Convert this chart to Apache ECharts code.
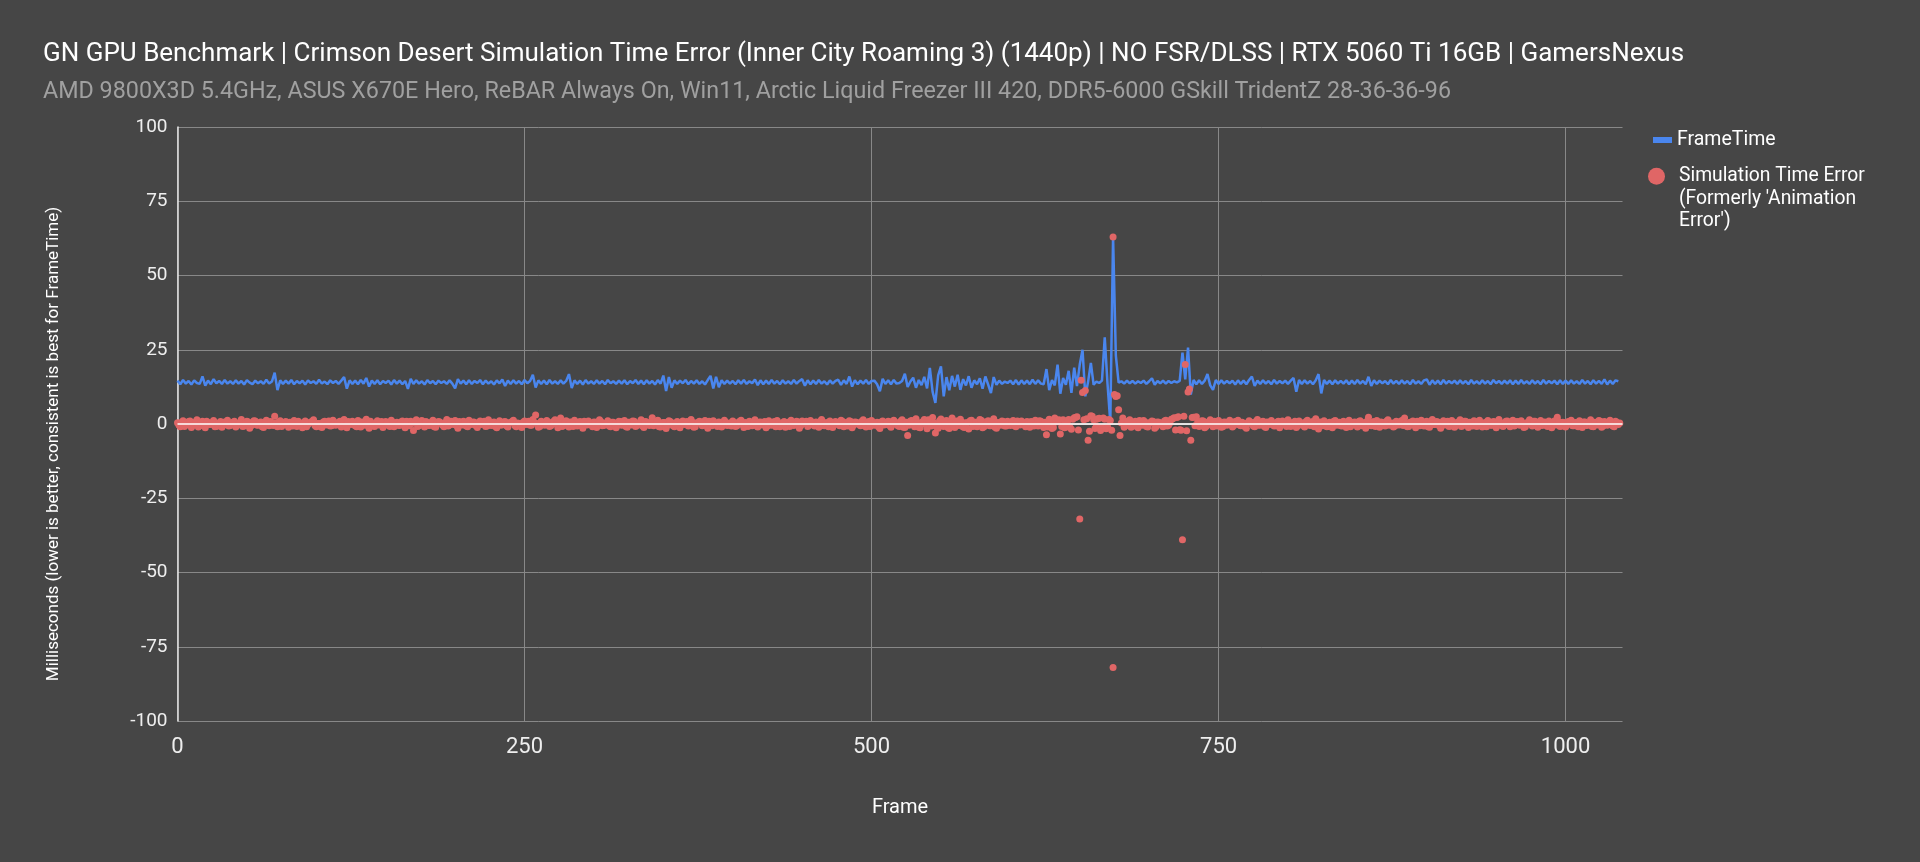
<!DOCTYPE html>
<html>
<head>
<meta charset="utf-8">
<script src="https://cdn.jsdelivr.net/npm/echarts@6/dist/echarts.min.js"></script>
<style>
html,body{margin:0;padding:0;background:#464646;}
#chart{width:1920px;height:862px;}
</style>
</head>
<body>
<div id="chart"></div>
<script>
// Values. Even frames (0,2,4,...) and odd frames (1,3,5,...).
const frameStep = 2;
const frameMax = 1041;
const yTicks = [-100, -75, -50, -25, 0, 25, 50, 75, 100];
const xTicks = [0, 250, 500, 750, 1000];

// FrameTime at even frames
const frameTime = [
14.6,13.4,14.8,13.6,14.5,13.3,14.7,13.8,13.5,16.0,12.9,14.6,13.4,15.1,13.7,14.5,13.5,14.8,13.6,14.4,
13.5,14.7,13.6,14.5,13.3,14.8,13.9,13.4,14.6,13.7,14.4,13.5,14.9,13.6,14.3,17.3,11.4,14.7,13.5,14.6,
13.6,14.8,13.4,14.5,13.7,14.6,13.3,14.7,13.8,14.4,13.5,14.9,13.6,14.3,13.4,14.7,13.8,14.5,13.5,14.6,
15.8,11.9,14.7,13.5,14.6,13.4,14.8,13.6,15.5,12.6,14.6,13.5,14.7,13.4,14.5,13.8,14.6,13.3,14.8,13.6,
14.6,13.4,14.5,11.8,15.2,13.5,14.7,13.6,14.4,13.3,14.8,13.7,14.5,13.4,14.6,13.8,14.4,13.5,14.7,13.6,
12.0,15.1,13.6,14.6,13.4,14.7,13.5,14.5,13.8,14.8,13.4,14.6,13.6,14.4,13.3,14.7,13.7,15.0,12.8,14.6,
13.5,14.7,13.6,14.5,13.4,14.8,13.7,14.5,16.6,12.3,14.7,13.5,14.6,13.4,14.8,13.6,14.4,13.5,14.7,13.6,
14.5,16.8,12.1,14.7,13.5,14.6,13.3,14.8,13.6,14.4,13.5,14.7,13.6,14.5,13.4,14.8,13.7,14.4,13.5,14.6,
13.6,14.7,13.4,14.5,13.7,14.8,13.5,14.6,13.4,14.7,13.6,14.5,13.3,14.8,13.6,16.3,11.1,15.8,12.2,14.7,
13.5,14.6,13.7,14.8,13.4,14.5,13.6,14.7,13.5,14.4,13.3,14.8,16.2,12.0,15.9,12.4,14.7,13.5,14.6,13.6,
14.5,13.4,14.7,13.6,14.8,13.5,14.4,13.7,15.0,13.1,14.7,13.4,14.6,13.5,14.8,13.6,14.5,13.4,14.7,13.6,
14.4,13.5,14.8,13.6,14.5,15.1,12.9,14.7,13.4,14.6,13.5,14.8,13.6,14.4,13.3,14.7,13.6,14.5,14.9,13.2,
14.7,13.5,16.0,12.6,14.7,13.4,14.6,13.6,14.8,13.5,14.5,14.6,13.4,11.0,15.2,13.5,14.7,13.4,14.8,13.6,
13.8,14.5,16.9,12.5,14.3,15.6,12.2,14.8,13.1,15.9,12.0,18.9,10.8,7.1,16.4,19.4,9.3,15.8,11.4,16.2,
12.6,16.6,11.5,15.1,13.0,16.1,12.2,14.7,13.4,15.4,11.9,16.0,13.3,10.4,15.8,13.2,14.6,13.5,14.3,13.8,
14.6,13.4,14.8,13.3,14.7,13.5,14.6,13.4,14.9,13.5,14.7,13.6,13.4,18.5,11.4,14.8,13.0,20.0,10.2,15.5,
13.2,17.9,10.5,19.0,12.8,20.0,25.0,9.3,14.2,20.6,13.2,14.3,13.8,14.6,29.2,13.5,0.5,63.0,23.0,13.9,
14.4,13.6,14.6,13.7,14.5,13.6,14.4,13.8,14.6,13.5,14.4,15.4,13.2,14.5,13.7,14.6,13.6,14.5,13.8,14.4,
14.0,14.5,24.0,15.0,25.7,9.9,14.8,13.4,14.7,13.5,14.6,16.8,13.0,11.5,14.8,13.5,14.7,13.6,14.5,13.7,
14.6,13.3,14.7,13.5,14.6,13.4,14.8,16.0,12.8,14.6,13.5,14.7,13.6,14.5,13.4,14.8,13.6,14.5,13.7,14.6,
13.5,14.6,15.5,10.9,14.8,13.5,14.7,13.6,14.5,13.4,14.7,16.8,10.3,14.8,13.5,14.6,13.4,14.7,13.6,14.5,
13.6,14.7,13.4,14.6,13.5,14.8,13.6,14.5,13.4,15.9,12.8,14.7,13.5,14.6,13.7,14.5,13.4,14.8,13.6,14.5,
13.5,14.7,13.6,14.5,13.4,14.8,13.6,14.4,13.5,14.7,15.0,13.2,14.7,13.5,14.6,13.4,14.8,13.6,14.5,13.7,
14.6,13.5,14.7,13.6,14.5,13.4,14.8,13.6,14.4,13.5,14.7,13.6,14.5,13.4,14.8,13.7,14.5,13.5,14.6,13.6,
14.7,13.4,14.6,13.5,14.8,13.6,14.4,13.5,14.7,13.6,14.5,13.4,14.8,13.6,14.5,13.7,14.6,13.4,14.7,13.5,
14.6,13.5,14.7,13.6,14.4,13.5,14.8,13.6,14.5,13.4,14.7,13.6,14.5,13.5,15.0,13.3,14.6,13.5,14.7,14.4
];

// Simulation Time Error at even frames
const simErrorEven = [
0.4,-0.9,1.1,-0.3,0.8,-1.2,0.2,1.4,-0.6,0.9,-1.3,0.5,-0.2,1.2,-0.8,0.3,-1.1,0.7,1.3,-0.5,
0.6,-1.0,0.2,1.5,-0.7,0.9,-1.4,0.1,1.0,-0.4,0.7,-1.2,1.3,-0.6,0.4,2.6,-0.9,1.1,-0.3,0.8,
-1.1,0.5,1.2,-0.8,0.3,-1.3,1.0,-0.2,0.7,1.4,-0.9,0.2,-1.2,0.9,0.4,-0.7,1.3,-0.4,0.6,-1.0,
1.5,-1.3,0.3,0.9,-0.6,1.2,-1.0,0.5,1.6,-1.4,0.2,-0.8,1.1,0.4,-1.2,0.8,-0.3,1.3,-0.9,0.6,
-0.5,1.0,-1.3,0.7,0.9,-2.2,1.4,-0.6,1.2,-1.0,0.5,-0.4,1.3,-1.1,0.8,0.2,-0.9,1.5,-0.3,0.6,
1.2,-1.4,0.4,0.9,-0.7,1.3,-0.2,0.6,-1.2,1.0,0.3,-0.8,1.4,-0.5,0.7,-1.3,1.1,-0.1,0.8,-1.0,
0.5,1.3,-0.9,0.2,-1.2,1.0,0.6,-0.4,1.5,3.0,-1.1,0.9,-0.3,1.2,-0.8,0.4,1.4,-1.3,2.0,-0.6,
1.1,-1.0,0.3,1.3,-0.7,0.8,-1.4,0.5,1.0,-0.3,0.7,-1.2,1.4,-0.6,0.2,1.1,-0.9,0.6,-1.3,0.9,
-0.4,1.2,-1.1,0.6,1.0,-0.8,0.3,1.4,-1.2,0.7,-0.5,2.1,-0.2,1.3,-1.0,0.5,-1.5,1.1,0.4,-0.9,
0.8,-1.3,1.0,0.2,-0.7,1.5,-1.1,0.4,0.9,-0.6,1.2,-1.4,0.6,1.1,-0.3,0.7,-1.0,1.3,-0.5,0.3,
1.0,-0.8,0.5,1.3,-1.2,0.2,0.9,-0.6,1.4,-1.0,0.7,0.3,-1.3,1.1,-0.4,0.8,1.2,-0.9,0.4,-1.1,
0.6,1.3,-0.5,0.9,-1.4,1.0,0.2,-0.8,1.2,-0.3,0.7,-1.1,1.5,-0.6,0.4,1.0,-1.2,0.8,-0.2,1.3,
-0.9,0.5,1.1,-1.3,0.7,0.3,-0.6,1.4,-1.0,0.8,1.2,-0.4,0.6,-1.5,1.0,-0.2,0.9,-1.1,1.3,0.4,
-0.8,1.4,-1.2,-3.9,1.0,0.6,1.8,-1.1,0.5,1.5,-1.6,0.9,2.2,-3.0,-1.4,1.7,-0.8,1.2,-1.5,2.0,
-1.2,0.8,1.6,-1.0,0.4,-1.7,1.3,0.2,-0.9,1.5,-1.3,0.7,1.1,-0.6,1.8,-1.4,0.3,1.0,-0.7,0.9,
-0.5,1.2,-0.9,0.6,1.0,-0.3,0.8,-1.1,0.4,1.3,-0.7,0.9,-1.2,-3.6,1.6,-1.5,2.0,0.8,-3.4,1.4,
-1.0,1.5,-1.8,2.1,2.4,-32.0,10.6,11.3,-5.5,2.8,1.4,-0.6,1.9,-1.2,1.6,-0.9,1.2,63.0,9.3,4.8,
0.3,-1.1,0.8,1.4,-0.5,0.9,-1.3,0.6,1.2,-0.8,0.4,1.0,-1.4,0.7,0.2,-0.9,1.3,-0.4,1.6,2.1,
2.2,-1.9,-39.0,20.0,10.8,-5.5,2.3,2.4,-0.8,1.1,-1.3,0.6,1.4,-0.9,0.5,1.2,-1.1,0.7,-0.4,1.3,
-1.0,0.8,1.3,-0.6,0.2,-1.4,1.1,0.5,-0.9,1.5,-0.3,0.9,-1.2,0.4,1.2,-0.7,0.6,-1.3,1.0,0.1,
1.4,-0.8,0.5,-1.2,1.0,0.3,-1.0,1.3,-0.5,0.8,1.8,-1.7,0.4,1.1,-0.9,0.6,-1.3,1.2,0.2,-0.6,
0.9,-1.2,1.3,-0.4,0.7,-1.0,1.1,0.3,-1.4,2.3,-0.6,0.8,1.2,-1.1,0.5,-0.7,1.4,0.0,-1.0,0.9,
-0.3,1.2,2.0,-0.9,0.6,1.0,-1.3,0.4,1.3,-0.7,0.9,-1.1,1.5,-0.2,0.7,-1.4,1.1,0.3,-0.8,1.2,
-1.1,0.6,1.4,-0.5,0.9,-1.2,0.3,1.1,-0.8,1.3,-1.0,0.5,1.2,-0.4,0.8,-1.3,1.5,-0.6,0.2,1.0,
-0.9,1.3,-0.3,0.7,1.1,-1.2,0.4,1.4,-0.7,0.9,-1.1,1.2,0.2,-0.5,1.0,-1.3,1.0,2.3,-0.8,0.6,
-1.0,0.8,1.3,-0.6,0.4,1.1,-1.2,0.7,-0.3,1.4,-0.9,0.5,1.2,-1.1,0.8,-0.4,1.3,-0.7,0.9,-0.2
];

// Simulation Time Error at odd frames
const simErrorOdd = [
-0.3,0.6,-0.8,0.2,1.0,-0.5,0.7,-1.0,0.3,-0.6,0.9,-0.2,0.5,-0.9,0.1,0.8,-0.4,0.6,-0.7,0.3,
0.9,-0.4,0.5,-0.8,0.2,0.7,-0.6,1.1,-0.3,0.4,-0.9,0.6,-0.1,0.8,-0.5,0.3,0.7,-0.8,0.5,-0.2,
0.6,-0.7,0.1,0.9,-0.4,0.5,-0.9,0.3,0.8,-0.5,0.2,-0.8,0.7,-0.3,1.0,-0.6,0.4,-0.1,0.9,-0.5,
-0.6,0.8,-0.2,0.5,-0.9,0.3,0.7,-0.4,0.1,0.9,-0.7,0.4,-0.3,0.8,-0.5,0.2,-0.8,0.6,0.1,-0.4,
0.7,-0.3,0.9,-0.6,0.2,0.5,-0.8,0.4,-0.1,0.8,-0.5,0.6,-0.9,0.3,0.7,-0.4,0.5,-0.7,0.9,-0.2,
-0.5,0.8,-0.3,0.6,-0.9,0.2,0.7,-0.6,0.4,-0.2,0.9,-0.7,0.3,0.5,-0.8,0.1,-0.4,0.7,-0.6,0.4,
0.8,-0.5,0.3,-0.7,0.6,-0.2,0.9,-0.4,0.5,0.2,-0.8,0.6,-0.3,0.7,-0.6,0.9,-0.1,0.4,-0.8,0.5,
-0.4,0.7,-0.8,0.2,0.5,-0.6,0.9,-0.3,0.4,-0.9,0.6,-0.1,0.8,-0.5,0.3,-0.7,0.6,0.1,-0.4,0.8,
0.5,-0.8,0.6,-0.3,0.9,-0.5,0.2,-0.7,0.8,-0.2,0.4,-0.6,0.7,-0.9,0.3,0.5,-0.4,0.8,-0.6,0.2,
-0.7,0.4,-0.2,0.8,-0.5,0.6,-0.9,0.3,0.7,-0.4,0.1,0.9,-0.6,0.4,-0.8,0.5,-0.3,0.6,0.2,-0.7,
0.4,-0.6,0.9,-0.2,0.5,-0.8,0.3,0.7,-0.5,0.6,-0.3,0.8,-0.7,0.2,0.5,-0.9,0.4,-0.1,0.8,-0.5,
-0.8,0.5,-0.2,0.7,-0.6,0.3,0.9,-0.4,0.6,-0.7,0.1,0.8,-0.5,0.4,-0.9,0.6,-0.2,0.5,-0.6,0.9,
0.3,-0.7,0.8,-0.4,0.6,-0.2,0.9,-0.6,0.4,-0.8,0.5,0.2,-0.9,0.7,-0.3,0.6,-0.5,0.8,-0.1,-0.6,
0.9,-1.1,0.6,-0.4,1.2,-0.9,0.5,-1.3,0.8,-0.2,1.4,-0.7,0.3,-1.0,1.1,-0.6,0.9,-1.2,0.4,-0.8,
1.0,-0.5,0.7,-1.2,0.4,1.1,-0.8,0.6,-0.3,1.3,-0.9,0.2,-0.6,1.0,-1.1,0.5,-0.4,0.8,-0.7,0.3,
0.7,-0.6,1.0,-0.3,0.5,-0.9,0.4,0.8,-0.7,0.2,1.1,-0.5,0.6,-1.0,0.9,-1.2,0.7,1.4,-0.8,-1.3,
0.7,-1.2,1.6,2.2,-2.0,14.7,1.4,1.8,-2.4,2.6,-1.5,1.8,-2.2,2.0,-1.6,1.5,-2.1,9.9,9.5,-3.9,
2.0,-0.6,0.9,-1.1,0.5,-0.8,1.2,-0.4,0.7,-1.0,0.3,0.8,-0.9,0.6,-0.3,1.0,-0.7,0.4,1.8,-2.0,
2.4,-2.1,2.6,-2.3,11.8,2.2,-0.6,0.8,-0.4,1.0,-0.8,0.5,-0.3,0.9,-0.7,0.4,-0.9,0.6,-0.2,0.7,
-0.5,0.8,-0.3,0.6,-0.9,0.4,0.2,-0.7,0.9,-0.4,0.5,-0.8,0.7,-0.2,0.3,-0.6,0.9,-0.5,0.4,-0.8,
0.6,-0.3,0.9,-0.7,0.4,-0.5,0.8,-0.2,0.6,-0.9,0.3,0.7,-0.6,0.5,-0.8,0.2,0.9,-0.4,0.6,-0.7,
-0.4,0.7,-0.9,0.5,-0.2,0.8,-0.6,0.4,0.9,-0.3,0.6,-0.8,0.2,0.7,-0.5,0.9,-0.4,0.3,-0.7,0.5,
0.8,-0.5,0.2,-0.8,0.6,-0.4,0.9,-0.6,0.3,0.7,-0.9,0.5,-0.2,0.8,-0.6,0.4,-0.3,0.9,-0.7,0.2,
-0.6,0.5,-0.8,0.9,-0.3,0.6,-0.7,0.4,0.8,-0.5,0.2,-0.9,0.6,-0.4,0.7,-0.2,0.5,-0.8,0.9,-0.3,
0.5,-0.7,0.8,-0.4,0.3,-0.9,0.6,-0.2,0.9,-0.6,0.4,-0.5,0.7,-0.8,0.2,0.6,-0.3,0.8,-0.7,0.4,
-0.3,0.8,-0.6,0.5,-0.9,0.4,0.7,-0.5,0.2,-0.8,0.6,-0.3,0.9,-0.7,0.4,-0.2,0.6,-0.9,0.5,0.3
];

// The -82 ms error shares frame 674 with the +63 ms one
const extraFrames = [674];
const extraErrors = [-82.0];

const lineData = frameTime.map((v, i) => [i * frameStep, v]);
const errData = simErrorEven.map((v, i) => [i * frameStep, v])
  .concat(simErrorOdd.map((v, i) => [i * frameStep + 1, v]))
  .concat(extraFrames.map((f, i) => [f, extraErrors[i]]));

const FONT = 'Roboto, "Noto Sans", Arial, sans-serif';
const chart = echarts.init(document.getElementById('chart'), null, {renderer: 'canvas'});
chart.setOption({
  backgroundColor: '#464646',
  animation: false,
  textStyle: {fontFamily: FONT},
  title: [
    {text: 'GN GPU Benchmark | Crimson Desert Simulation Time Error (Inner City Roaming 3) (1440p) | NO FSR/DLSS | RTX 5060 Ti 16GB | GamersNexus',
     left: 43, top: 41, padding: 0,
     textStyle: {color: '#ffffff', fontSize: 26, fontWeight: 'normal', fontFamily: FONT}},
    {text: 'AMD 9800X3D 5.4GHz, ASUS X670E Hero, ReBAR Always On, Win11, Arctic Liquid Freezer III 420, DDR5-6000 GSkill TridentZ 28-36-36-96',
     left: 43, top: 81, padding: 0,
     textStyle: {color: '#a0a0a0', fontSize: 23.3, fontWeight: 'normal', fontFamily: FONT}}
  ],
  legend: [
    {data: ['FrameTime'], orient: 'vertical', left: 1653, top: 130, padding: 0,
     icon: 'rect', itemWidth: 19, itemHeight: 6,
     textStyle: {color: '#ffffff', fontSize: 19.5, fontFamily: FONT}},
    {data: ['Simulation Time Error'], orient: 'vertical', left: 1648, top: 120, padding: 0,
     icon: 'circle', itemWidth: 17, itemHeight: 17,
     formatter: () => "\n\nSimulation Time Error\n(Formerly 'Animation\nError')",
     textStyle: {color: '#ffffff', fontSize: 19.3, lineHeight: 22.5, fontFamily: FONT, padding: [0, 0, 0, 9]}}
  ],
  grid: {left: 177.5, right: 297.5, top: 127, bottom: 141, containLabel: false},
  xAxis: {
    type: 'value', min: 0, max: frameMax, interval: 250,
    name: 'Frame', nameLocation: 'middle', nameGap: 77,
    nameTextStyle: {color: '#ffffff', fontSize: 20, fontFamily: FONT},
    axisLine: {show: true, lineStyle: {color: '#a0a0a0', width: 1.5}},
    axisTick: {show: false},
    axisLabel: {color: '#eeeeee', fontSize: 22, margin: 15, showMaxLabel: false, fontFamily: FONT,
      formatter: v => (xTicks.indexOf(v) >= 0 ? String(v) : '')},
    splitLine: {show: true, showMaxLine: false, lineStyle: {color: '#888888', width: 1}}
  },
  yAxis: {
    type: 'value', min: yTicks[0], max: yTicks[yTicks.length - 1], interval: 25,
    name: 'Milliseconds (lower is better, consistent is best for FrameTime)',
    nameLocation: 'middle', nameGap: 115, nameRotate: 90,
    nameTextStyle: {color: '#ffffff', fontSize: 17, fontFamily: FONT, padding: [0, 40, 0, 0]},
    axisLine: {show: true, lineStyle: {color: '#e6e6e6', width: 1.5}},
    axisTick: {show: false},
    axisLabel: {color: '#eeeeee', fontSize: 19, margin: 10, fontFamily: FONT},
    splitLine: {show: true, lineStyle: {color: '#888888', width: 1}}
  },
  series: [
    {name: 'FrameTime', type: 'line', data: lineData, showSymbol: false, symbol: 'none',
     sampling: null, z: 2,
     lineStyle: {color: '#4a86ee', width: 2.5}, itemStyle: {color: '#4a86ee'},
     markLine: {silent: true, symbol: 'none', label: {show: false},
       lineStyle: {color: '#ffffff', width: 1.5, type: 'solid'}, data: [{yAxis: 0}]}},
    {name: 'Simulation Time Error', type: 'scatter', data: errData, symbolSize: 7, z: 3,
     itemStyle: {color: '#e06666', opacity: 1}}
  ]
});
</script>
</body>
</html>
